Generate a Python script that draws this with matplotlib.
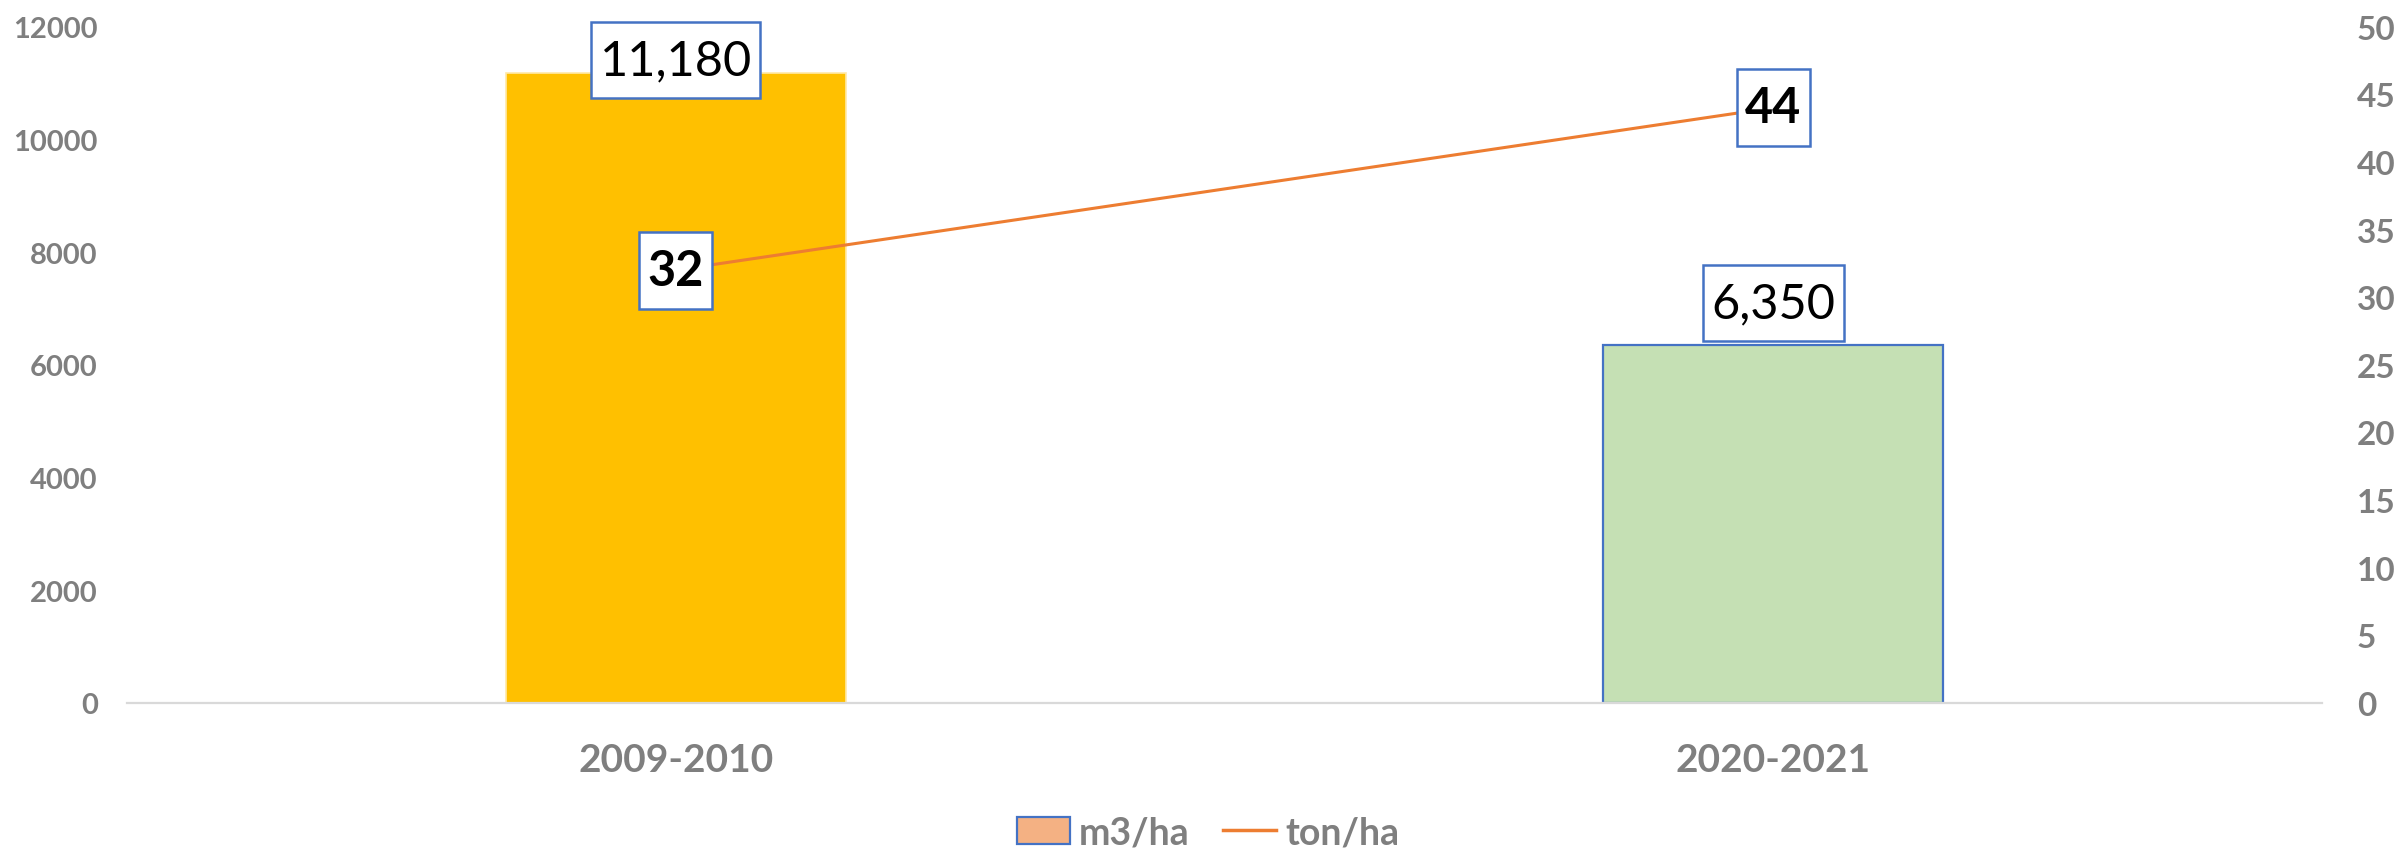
import matplotlib
matplotlib.use("Agg")
import matplotlib.pyplot as plt
from matplotlib.patches import Patch
from matplotlib.lines import Line2D
from matplotlib.path import Path

plt.rcParams['font.family'] = ['Lato', 'DejaVu Sans']

categories = ["2009-2010", "2020-2021"]
m3_ha = [11180, 6350]
ton_ha = [32, 44]
m3_labels = ["11,180", "6,350"]
ton_labels = ["32", "44"]
left_ticks = [0, 2000, 4000, 6000, 8000, 10000, 12000]
right_ticks = [0, 5, 10, 15, 20, 25, 30, 35, 40, 45, 50]

GRAY = "#7F7F7F"
BLUE = "#4472C4"
ORANGE = "#ED7D31"


def label_box(x0, y0, width, height, mutation_size):
    px = 0.17 * mutation_size
    py = 0.33 * mutation_size
    xa, xb = x0 - px, x0 + width + px
    ya, yb = y0 - py, y0 + height + py
    return Path([(xa, ya), (xb, ya), (xb, yb), (xa, yb), (xa, ya)], closed=True)


fig = plt.figure(figsize=(24.02, 8.54), dpi=100)
ax = fig.add_axes([127/2402, 1-704/854, (2322-127)/2402, (704-27.6)/854])
x = list(range(len(categories)))

bars = ax.bar(x, m3_ha, width=0.31, color=["#FFC000", "#C5E0B4"],
              edgecolor=["#FFE9A8", BLUE], linewidth=[1.2, 1.6], zorder=2)
ax.set_xlim(-0.5, len(categories) - 0.5)
ax.set_ylim(0, 12000)
ax.set_yticks(left_ticks)
ax.set_yticklabels([str(t) for t in left_ticks])
ax.set_xticks(x)
ax.set_xticklabels(categories)
ax.tick_params(axis='y', length=0, pad=21, labelsize=21, labelcolor=GRAY)
ax.tick_params(axis='x', length=0, pad=28, labelsize=28, labelcolor=GRAY)
for lab in ax.get_yticklabels() + ax.get_xticklabels():
    lab.set_fontweight('bold')
for s in ['top', 'left', 'right']:
    ax.spines[s].set_visible(False)
ax.spines['bottom'].set_color("#D9D9D9")
ax.spines['bottom'].set_linewidth(1.6)

ax2 = ax.twinx()
ax2.set_ylim(0, 50)
ax2.set_yticks(right_ticks)
ax2.set_yticklabels([str(t) for t in right_ticks])
ax2.tick_params(axis='y', length=0, pad=25, labelsize=24, labelcolor=GRAY)
for lab in ax2.get_yticklabels():
    lab.set_fontweight('bold')
for s in ['top', 'left', 'right', 'bottom']:
    ax2.spines[s].set_visible(False)
ax2.plot(x, ton_ha, color=ORANGE, linewidth=2.2, zorder=3)

box = dict(boxstyle=label_box, facecolor="white", edgecolor=BLUE, linewidth=1.8)

bar_offsets = [9, 30]  # points above bar top (label box centre)
for xi, v, lab, off in zip(x, m3_ha, m3_labels, bar_offsets):
    ax2.annotate(lab, xy=(xi, v * 50 / 12000), xytext=(0, off), textcoords='offset points',
                 ha='center', va='center', fontsize=35, color='black', bbox=box, zorder=5)

for xi, v, lab in zip(x, ton_ha, ton_labels):
    ax2.annotate(lab, xy=(xi, v), ha='center', va='center', fontsize=35,
                 fontweight='bold', color='black', bbox=box, zorder=6)

handles = [Patch(facecolor="#F4B183", edgecolor=BLUE, linewidth=1.6),
           Line2D([0], [0], color=ORANGE, linewidth=2.5)]
leg = fig.legend(handles, ["m3/ha", "ton/ha"], loc='center', bbox_to_anchor=(0.503, 0.024),
                 ncol=2, frameon=False, handlelength=1.4, handleheight=0.7,
                 handletextpad=0.25, columnspacing=0.9,
                 prop={'size': 27, 'weight': 'bold'})
for t in leg.get_texts():
    t.set_color(GRAY)

fig.savefig("out.png", dpi=100)
